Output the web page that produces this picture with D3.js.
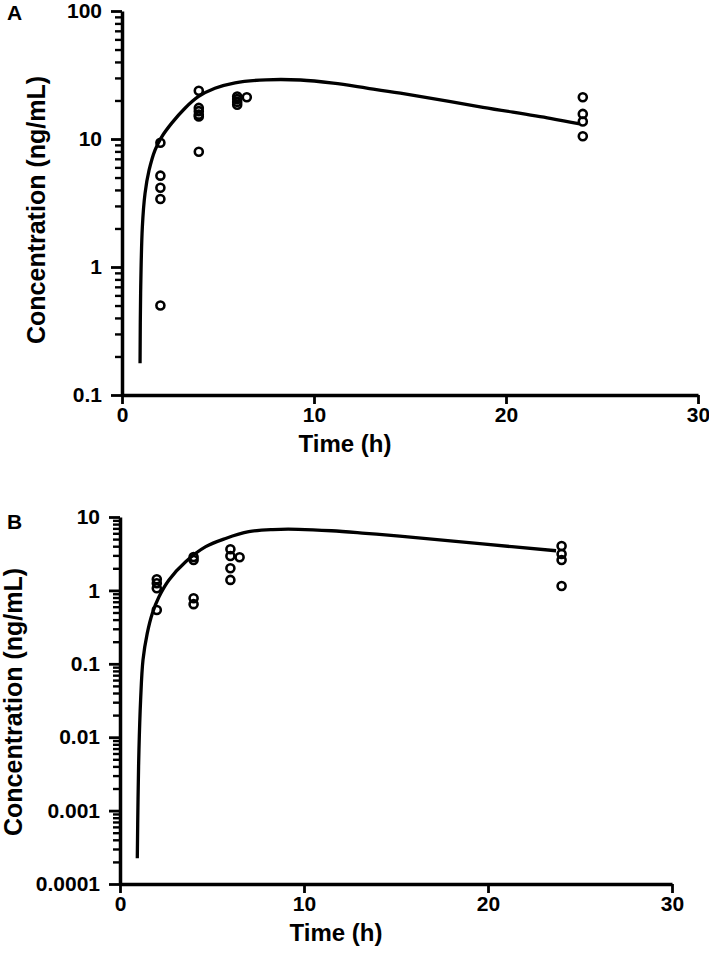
<!DOCTYPE html>
<html><head><meta charset="utf-8">
<script src="https://cdn.jsdelivr.net/npm/d3@7"></script>
<style>
body{margin:0;background:#fff;}
text{font-family:"Liberation Sans",Arial,sans-serif;font-weight:bold;fill:#000;}
</style></head>
<body><svg id="c" width="709" height="960"></svg>
<script>
// ---- Panel A data ----
const obsTimeA = [2,2,2,2,2, 4,4,4,4,4,4, 6,6,6,6, 6.5, 24,24,24,24];
const obsConcA = [9.35,5.17,4.16,3.4,0.5, 23.8,17.5,16.5,15.5,15.0,7.95, 21.5,20.5,19.5,18.5, 21.2, 21.2,15.7,13.7,10.5];
const fitTimeA = [0.94,0.97,1.06,1.2,1.41,1.72,2.07,2.59,3.28,3.97,4.84,5.89,7.5,9.3,11.0,12.75,14.5,18.8,22.3,23.85];
const fitConcA = [0.177,0.62,2.06,3.76,5.7,8.2,10.4,13.3,17.4,21.4,24.9,27.5,29.0,28.9,27.3,25.0,22.8,17.7,14.5,13.1];
const yTicksA = [100,10,1,0.1];
const yTickLabelsA = ["100","10","1","0.1"];

// ---- Panel B data ----
const obsTimeB = [2,2,2,2, 4,4,4,4, 6,6,6,6, 6.5, 24,24,24,24];
const obsConcB = [1.42,1.25,1.07,0.54, 2.85,2.6,0.78,0.65, 3.63,2.94,2.0,1.39, 2.83, 4.03,3.13,2.6,1.15];
const fitTimeB = [0.94,0.98,1.03,1.12,1.25,1.48,1.76,2.12,2.66,3.57,4.66,5.74,7.0,8.3,9.7,11.5,13.35,15.2,19.7,23.7];
const fitConcB = [0.000224,0.0014,0.0067,0.032,0.113,0.26,0.49,0.82,1.39,2.46,3.94,5.1,6.3,6.75,6.8,6.5,6.0,5.5,4.3,3.47];
const yTicksB = [10,1,0.1,0.01,0.001,0.0001];
const yTickLabelsB = ["10","1","0.1","0.01","0.001","0.0001"];

const xTicks = [0,10,20,30];
const xTickLabels = ["0","10","20","30"];
const xTitle = "Time (h)";
const yTitle = "Concentration (ng/mL)";

const svg = d3.select("#c");
const FONT = "'Liberation Sans',Arial,sans-serif";

function panel(cfg){
  const g = svg.append("g");
  const x = d3.scaleLinear().domain([0,30]).range([cfg.x0,cfg.x1]);
  const y = d3.scaleLog().domain(cfg.ydom).range([cfg.y0,cfg.y1]);
  const minors=[];
  const lo=Math.round(Math.log10(cfg.ydom[0])), hi=Math.round(Math.log10(cfg.ydom[1]));
  for(let e=lo;e<hi;e++){for(let k=2;k<=9;k++){minors.push(k*Math.pow(10,e));}}
  const minorAx = g.append("g").attr("transform",`translate(${cfg.x0},0)`)
    .call(d3.axisLeft(y).tickValues(minors).tickSize(7).tickFormat(""));
  minorAx.select(".domain").remove();
  minorAx.selectAll("line").attr("stroke-width",2.4);
  const yAx = g.append("g").attr("transform",`translate(${cfg.x0},0)`)
    .call(d3.axisLeft(y).tickValues(cfg.yticks).tickSize(11).tickSizeOuter(0).tickPadding(9)
      .tickFormat((d,i)=>cfg.ylabels[i]));
  yAx.select(".domain").attr("stroke-width",3.5);
  yAx.selectAll("line").attr("stroke-width",2.8);
  yAx.selectAll("text").style("font-size","21px").style("font-family",FONT).style("font-weight","bold");
  const xAx = g.append("g").attr("transform",`translate(0,${cfg.y0})`)
    .call(d3.axisBottom(x).tickValues(xTicks).tickSize(9).tickSizeOuter(0).tickPadding(3)
      .tickFormat((d,i)=>xTickLabels[i]));
  xAx.select(".domain").attr("stroke-width",3.5);
  xAx.selectAll("line").attr("stroke-width",2.8);
  xAx.selectAll("text").style("font-size","21px").style("font-family",FONT).style("font-weight","bold");
  const line = d3.line().x(d=>x(d[0])).y(d=>y(d[1])).curve(d3.curveCatmullRom.alpha(0.5));
  g.append("path").datum(cfg.ft.map((t,i)=>[t,cfg.fc[i]]))
    .attr("d",line).attr("fill","none").attr("stroke","#000").attr("stroke-width",3.3);
  g.selectAll("circle.o").data(cfg.ot.map((t,i)=>[t,cfg.oc[i]])).enter().append("circle")
    .attr("cx",d=>x(d[0])).attr("cy",d=>y(d[1])).attr("r",4)
    .attr("fill","none").attr("stroke","#000").attr("stroke-width",2.6);
  g.append("text").attr("x",cfg.xtx).attr("y",cfg.xty).attr("text-anchor","middle")
    .style("font-size","24px").text(xTitle);
  g.append("text").attr("transform",`translate(${cfg.ytx},${cfg.yty}) rotate(-90)`)
    .attr("text-anchor","middle").style("font-size","25px").text(yTitle);
  g.append("text").attr("x",7).attr("y",cfg.lby).style("font-size","21px").text(cfg.label);
}

panel({x0:122,x1:698,y0:395,y1:11,ydom:[0.1,100],yticks:yTicksA,ylabels:yTickLabelsA,
  ft:fitTimeA,fc:fitConcA,ot:obsTimeA,oc:obsConcA,xtx:345,xty:452,ytx:45,yty:210,label:"A",lby:20});
panel({x0:120,x1:672,y0:884,y1:517,ydom:[0.0001,10],yticks:yTicksB,ylabels:yTickLabelsB,
  ft:fitTimeB,fc:fitConcB,ot:obsTimeB,oc:obsConcB,xtx:336,xty:941,ytx:22,yty:702,label:"B",lby:529});
</script></body></html>
